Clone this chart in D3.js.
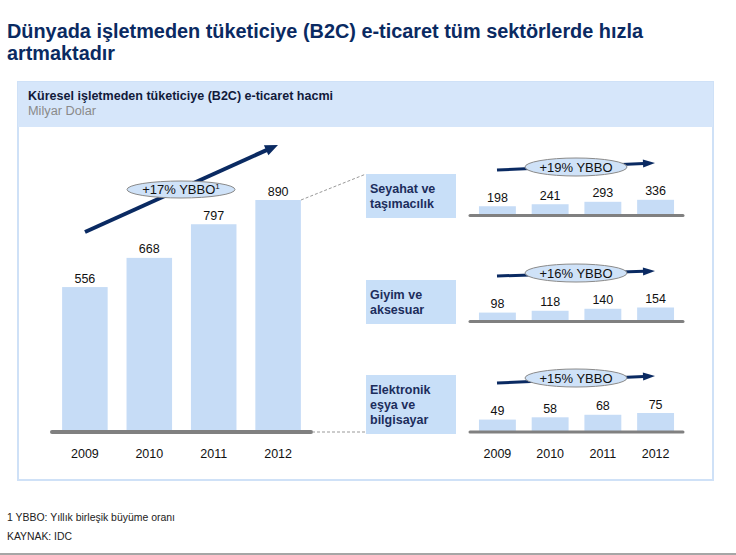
<!DOCTYPE html>
<html><head><meta charset="utf-8">
<script src="https://cdn.jsdelivr.net/npm/d3@7"></script>
<style>
html,body{margin:0;padding:0;background:#fff;}
svg{display:block;font-family:"Liberation Sans",Arial,sans-serif;}
</style></head>
<body>
<svg id="chart" width="736" height="555"></svg>
<script>
// ---- data ----
const years = ["2009", "2010", "2011", "2012"];
const totalValues = [556, 668, 797, 890];
const travelValues = [198, 241, 293, 336];
const apparelValues = [98, 118, 140, 154];
const electronicsValues = [49, 58, 68, 75];
const segmentLabels = [["Seyahat ve", "taşımacılık"], ["Giyim ve", "aksesuar"], ["Elektronik", "eşya ve", "bilgisayar"]];
const segmentCagr = ["+19% YBBO", "+16% YBBO", "+15% YBBO"];
const totalCagr = "+17% YBBO";
const titleLines = ["Dünyada işletmeden tüketiciye (B2C) e-ticaret tüm sektörlerde hızla", "artmaktadır"];
const panelTitle = "Küresel işletmeden tüketiciye (B2C) e-ticaret hacmi";
const panelUnit = "Milyar Dolar";
const footnotes = ["1 YBBO: Yıllık birleşik büyüme oranı", "KAYNAK: IDC"];

// ---- styles ----
const NAVY = "#0a2a62", BAR = "#c6dcf6", BASE = "#808080", BAND = "#d6e6fa", BORDER = "#cfe1f7";

const svg = d3.select("#chart");

// title
const tl = svg.append("g");
tl.append("text").attr("x", 7).attr("y", 37.5).attr("font-size", 20).attr("font-weight", "bold")
  .attr("fill", NAVY).attr("textLength", 636).attr("lengthAdjust", "spacingAndGlyphs").text(titleLines[0]);
tl.append("text").attr("x", 7).attr("y", 60).attr("font-size", 20).attr("font-weight", "bold")
  .attr("fill", NAVY).attr("textLength", 108).attr("lengthAdjust", "spacingAndGlyphs").text(titleLines[1]);

// panel
svg.append("rect").attr("x", 18).attr("y", 82).attr("width", 695).attr("height", 398)
  .attr("fill", "#fff").attr("stroke", BORDER).attr("stroke-width", 2);
svg.append("rect").attr("x", 18).attr("y", 82).attr("width", 695).attr("height", 45).attr("fill", BAND);
svg.append("text").attr("x", 28).attr("y", 99.5).attr("font-size", 12).attr("font-weight", "bold")
  .attr("fill", "#111a3a").attr("textLength", 305).attr("lengthAdjust", "spacingAndGlyphs").text(panelTitle);
svg.append("text").attr("x", 28).attr("y", 114.5).attr("font-size", 12)
  .attr("fill", "#8a8a8a").attr("textLength", 68).attr("lengthAdjust", "spacingAndGlyphs").text(panelUnit);

// arrow helper
function arrow(g, x1, y1, x2, y2, w, headL, headW) {
  const dx = x2 - x1, dy = y2 - y1, L = Math.hypot(dx, dy);
  const ux = dx / L, uy = dy / L, px = -uy, py = ux;
  const bx = x2 - ux * headL, by = y2 - uy * headL;
  g.append("line").attr("x1", x1).attr("y1", y1).attr("x2", bx + ux).attr("y2", by + uy)
    .attr("stroke", NAVY).attr("stroke-width", w);
  g.append("path").attr("d", `M${x2},${y2}L${bx + px * headW},${by + py * headW}L${bx - px * headW},${by - py * headW}Z`)
    .attr("fill", NAVY);
}
function pill(g, cx, cy, rx, ry, label, sup) {
  g.append("ellipse").attr("cx", cx).attr("cy", cy).attr("rx", rx).attr("ry", ry)
    .attr("fill", "#cfe2f8").attr("stroke", "#8a8a8a").attr("stroke-width", 1);
  const t = g.append("text").attr("x", cx).attr("y", cy + 4.5).attr("text-anchor", "middle")
    .attr("font-size", 13).attr("fill", "#111").text(label);
  if (sup) t.append("tspan").attr("font-size", 8).attr("dy", -5).text(sup);
}

// ---- main chart ----
const mainBase = 432;
const x = d3.scaleBand().domain(years).range([52, 311]).paddingInner(0.293).paddingOuter(0.157);
const y = d3.scaleLinear().domain([0, 890]).range([mainBase, 200]);
const main = svg.append("g");
main.selectAll("rect.bar").data(totalValues).join("rect").attr("class", "bar")
  .attr("x", (d, i) => x(years[i])).attr("width", x.bandwidth())
  .attr("y", d => y(d)).attr("height", d => mainBase - y(d)).attr("fill", BAR);
main.selectAll("text.val").data(totalValues).join("text").attr("class", "val")
  .attr("x", (d, i) => x(years[i]) + x.bandwidth() / 2).attr("y", d => y(d) - 4.5)
  .attr("text-anchor", "middle").attr("font-size", 12.5).attr("fill", "#111").text(d => d);
main.append("line").attr("x1", 52).attr("x2", 311).attr("y1", mainBase).attr("y2", mainBase)
  .attr("stroke", BASE).attr("stroke-width", 4).attr("stroke-linecap", "round");
const xAxis = main.append("g").attr("transform", `translate(0,${mainBase})`)
  .call(d3.axisBottom(x).tickSize(0).tickPadding(17));
xAxis.select(".domain").remove();
xAxis.selectAll("text").attr("font-size", 12.5).attr("fill", "#111").attr("font-family", "Liberation Sans, Arial, sans-serif");

arrow(main, 85, 232, 278, 145, 4, 13, 5.5);
pill(main, 181, 189.5, 54, 8.5, totalCagr, "1");

// connectors
svg.append("line").attr("x1", 301).attr("y1", 200).attr("x2", 366).attr("y2", 174)
  .attr("stroke", "#999").attr("stroke-width", 1).attr("stroke-dasharray", "3,2");
svg.append("line").attr("x1", 312).attr("y1", 432).attr("x2", 366).attr("y2", 432)
  .attr("stroke", "#999").attr("stroke-width", 1).attr("stroke-dasharray", "3,2");

// ---- segment panels ----
const segValues = [travelValues, apparelValues, electronicsValues];
const segBase = [215.5, 321.5, 432];
const segMaxH = [15.7, 14, 19];
const boxTop = [174, 280, 375];
const boxH = [44, 44, 59];
const arrowY = [[170, 163], [276, 271], [383, 376]];
const pillY = [167, 273, 378];
const xs = d3.scaleBand().domain(years).range([470, 683]).paddingInner(0.3).paddingOuter(0.17);

segValues.forEach((vals, k) => {
  const g = svg.append("g");
  const ys = d3.scaleLinear().domain([0, d3.max(vals)]).range([0, segMaxH[k]]);
  // label box
  g.append("rect").attr("x", 366).attr("y", boxTop[k]).attr("width", 90).attr("height", boxH[k]).attr("fill", "#c8dff8");
  const lines = segmentLabels[k];
  const cy = boxTop[k] + boxH[k] / 2;
  lines.forEach((s, j) => {
    g.append("text").attr("x", 370).attr("y", cy + (j - (lines.length - 1) / 2) * 15 + 4.5)
      .attr("font-size", 12.5).attr("font-weight", "bold").attr("fill", "#1c2d5c").text(s);
  });
  g.selectAll("rect.bar").data(vals).join("rect").attr("class", "bar")
    .attr("x", (d, i) => xs(years[i])).attr("width", xs.bandwidth())
    .attr("y", d => segBase[k] - ys(d)).attr("height", d => ys(d)).attr("fill", BAR);
  g.selectAll("text.val").data(vals).join("text").attr("class", "val")
    .attr("x", (d, i) => xs(years[i]) + xs.bandwidth() / 2).attr("y", d => segBase[k] - ys(d) - 4.5)
    .attr("text-anchor", "middle").attr("font-size", 12.5).attr("fill", "#111").text(d => d);
  g.append("line").attr("x1", 470).attr("x2", 683).attr("y1", segBase[k]).attr("y2", segBase[k])
    .attr("stroke", BASE).attr("stroke-width", 3).attr("stroke-linecap", "round");
  arrow(g, 497, arrowY[k][0], 655, arrowY[k][1], 3, 12, 4);
  pill(g, 576, pillY[k], 51, 9, segmentCagr[k]);
});

const xAxis2 = svg.append("g").attr("transform", `translate(0,432)`)
  .call(d3.axisBottom(xs).tickSize(0).tickPadding(17));
xAxis2.select(".domain").remove();
xAxis2.selectAll("text").attr("font-size", 12.5).attr("fill", "#111").attr("font-family", "Liberation Sans, Arial, sans-serif");

// footnotes
svg.append("text").attr("x", 7).attr("y", 520.5).attr("font-size", 10).attr("fill", "#222")
  .attr("textLength", 168).attr("lengthAdjust", "spacingAndGlyphs").text(footnotes[0]);
svg.append("text").attr("x", 7).attr("y", 539.5).attr("font-size", 10).attr("fill", "#222")
  .attr("textLength", 65).attr("lengthAdjust", "spacingAndGlyphs").text(footnotes[1]);
svg.append("line").attr("x1", 0).attr("x2", 736).attr("y1", 554).attr("y2", 554)
  .attr("stroke", "#888").attr("stroke-width", 1.5);
</script>
</body></html>
